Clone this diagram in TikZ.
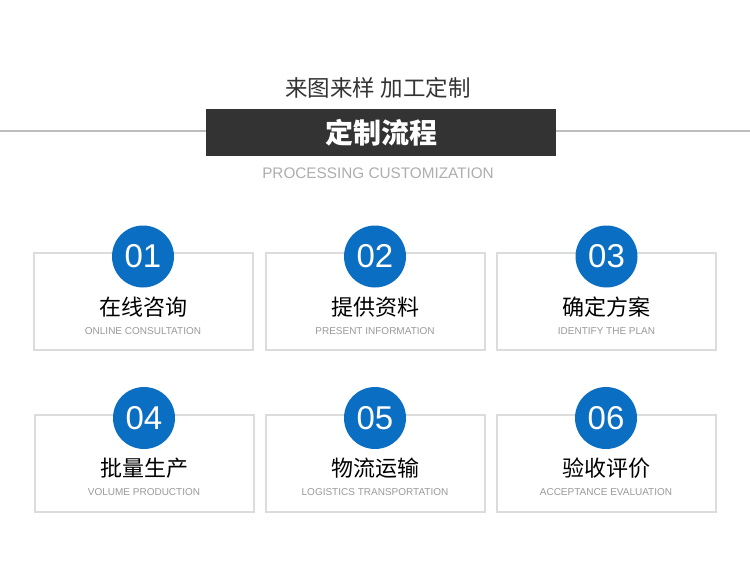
\documentclass[tikz,border=0pt]{standalone}
\usepackage{fontspec}
\setmainfont{Liberation Sans}
\newfontfamily\cjk{Noto Sans CJK SC}
\usetikzlibrary{positioning}
\definecolor{fonce}{HTML}{333333}
\definecolor{bleu}{HTML}{0A6EC2}
\definecolor{cadre}{HTML}{DCDCDC}
\definecolor{gristexte}{HTML}{9A9A9A}
\definecolor{trait}{HTML}{BDBDBD}
\begin{document}
\begin{tikzpicture}[x=1pt,y=-1pt,
    carte/.style={draw=cadre,line width=2pt,minimum width=219pt,minimum height=97pt},
    rond/.style={circle,fill=bleu,minimum size=62pt,inner sep=0pt,text=white,font=\fontsize{33}{33}\selectfont},
    titre/.style={font=\cjk\fontsize{22}{24}\selectfont,text=black},
    soustitre/.style={font=\fontsize{10}{12}\selectfont,text=gristexte}]
    \useasboundingbox[fill=white] (0,0) rectangle (750,586);

    % Bandeau du titre
    \node[fill=fonce,minimum width=350pt,minimum height=47pt,inner sep=0pt] (bandeau) at (381,132.5) {};
    \node[text=white,font=\cjk\bfseries\fontsize{28}{30}\selectfont] (titre) at (bandeau) {定制流程};
    \coordinate (g) at (0,131);
    \coordinate (d) at (750,131);
    \draw[trait,line width=1.5pt] (g) -- (g -| bandeau.west) (bandeau.east |- d) -- (d);
    \node[text=fonce,font=\cjk\fontsize{22.5}{24}\selectfont] (accroche) at (378,88) {来图来样 加工定制};
    \node[text=gristexte!80!white,font=\fontsize{15.3}{17}\selectfont] (sous) at (378,173) {PROCESSING CUSTOMIZATION};

    % Les six étapes
    \foreach \nom/\x/\y/\num/\zh/\en in {
        a/143/301.5/01/在线咨询/ONLINE CONSULTATION,
        b/375/301.5/02/提供资料/PRESENT INFORMATION,
        c/606.5/301.5/03/确定方案/IDENTIFY THE PLAN,
        d/144/463/04/批量生产/VOLUME PRODUCTION,
        e/375/463/05/物流运输/LOGISTICS TRANSPORTATION,
        f/606/463/06/验收评价/ACCEPTANCE EVALUATION} {
        \node[carte] (carte\nom) at (\x,\y) {};
        \node[rond] (rond\nom) at ([yshift=-4.5pt]carte\nom.north) {\num};
        \node[titre] (zh\nom) at ([yshift=-5.5pt]carte\nom.center) {\zh};
        \node[soustitre] (en\nom) at ([yshift=-29.5pt]carte\nom.center) {\en};
    }
\end{tikzpicture}
\end{document}
